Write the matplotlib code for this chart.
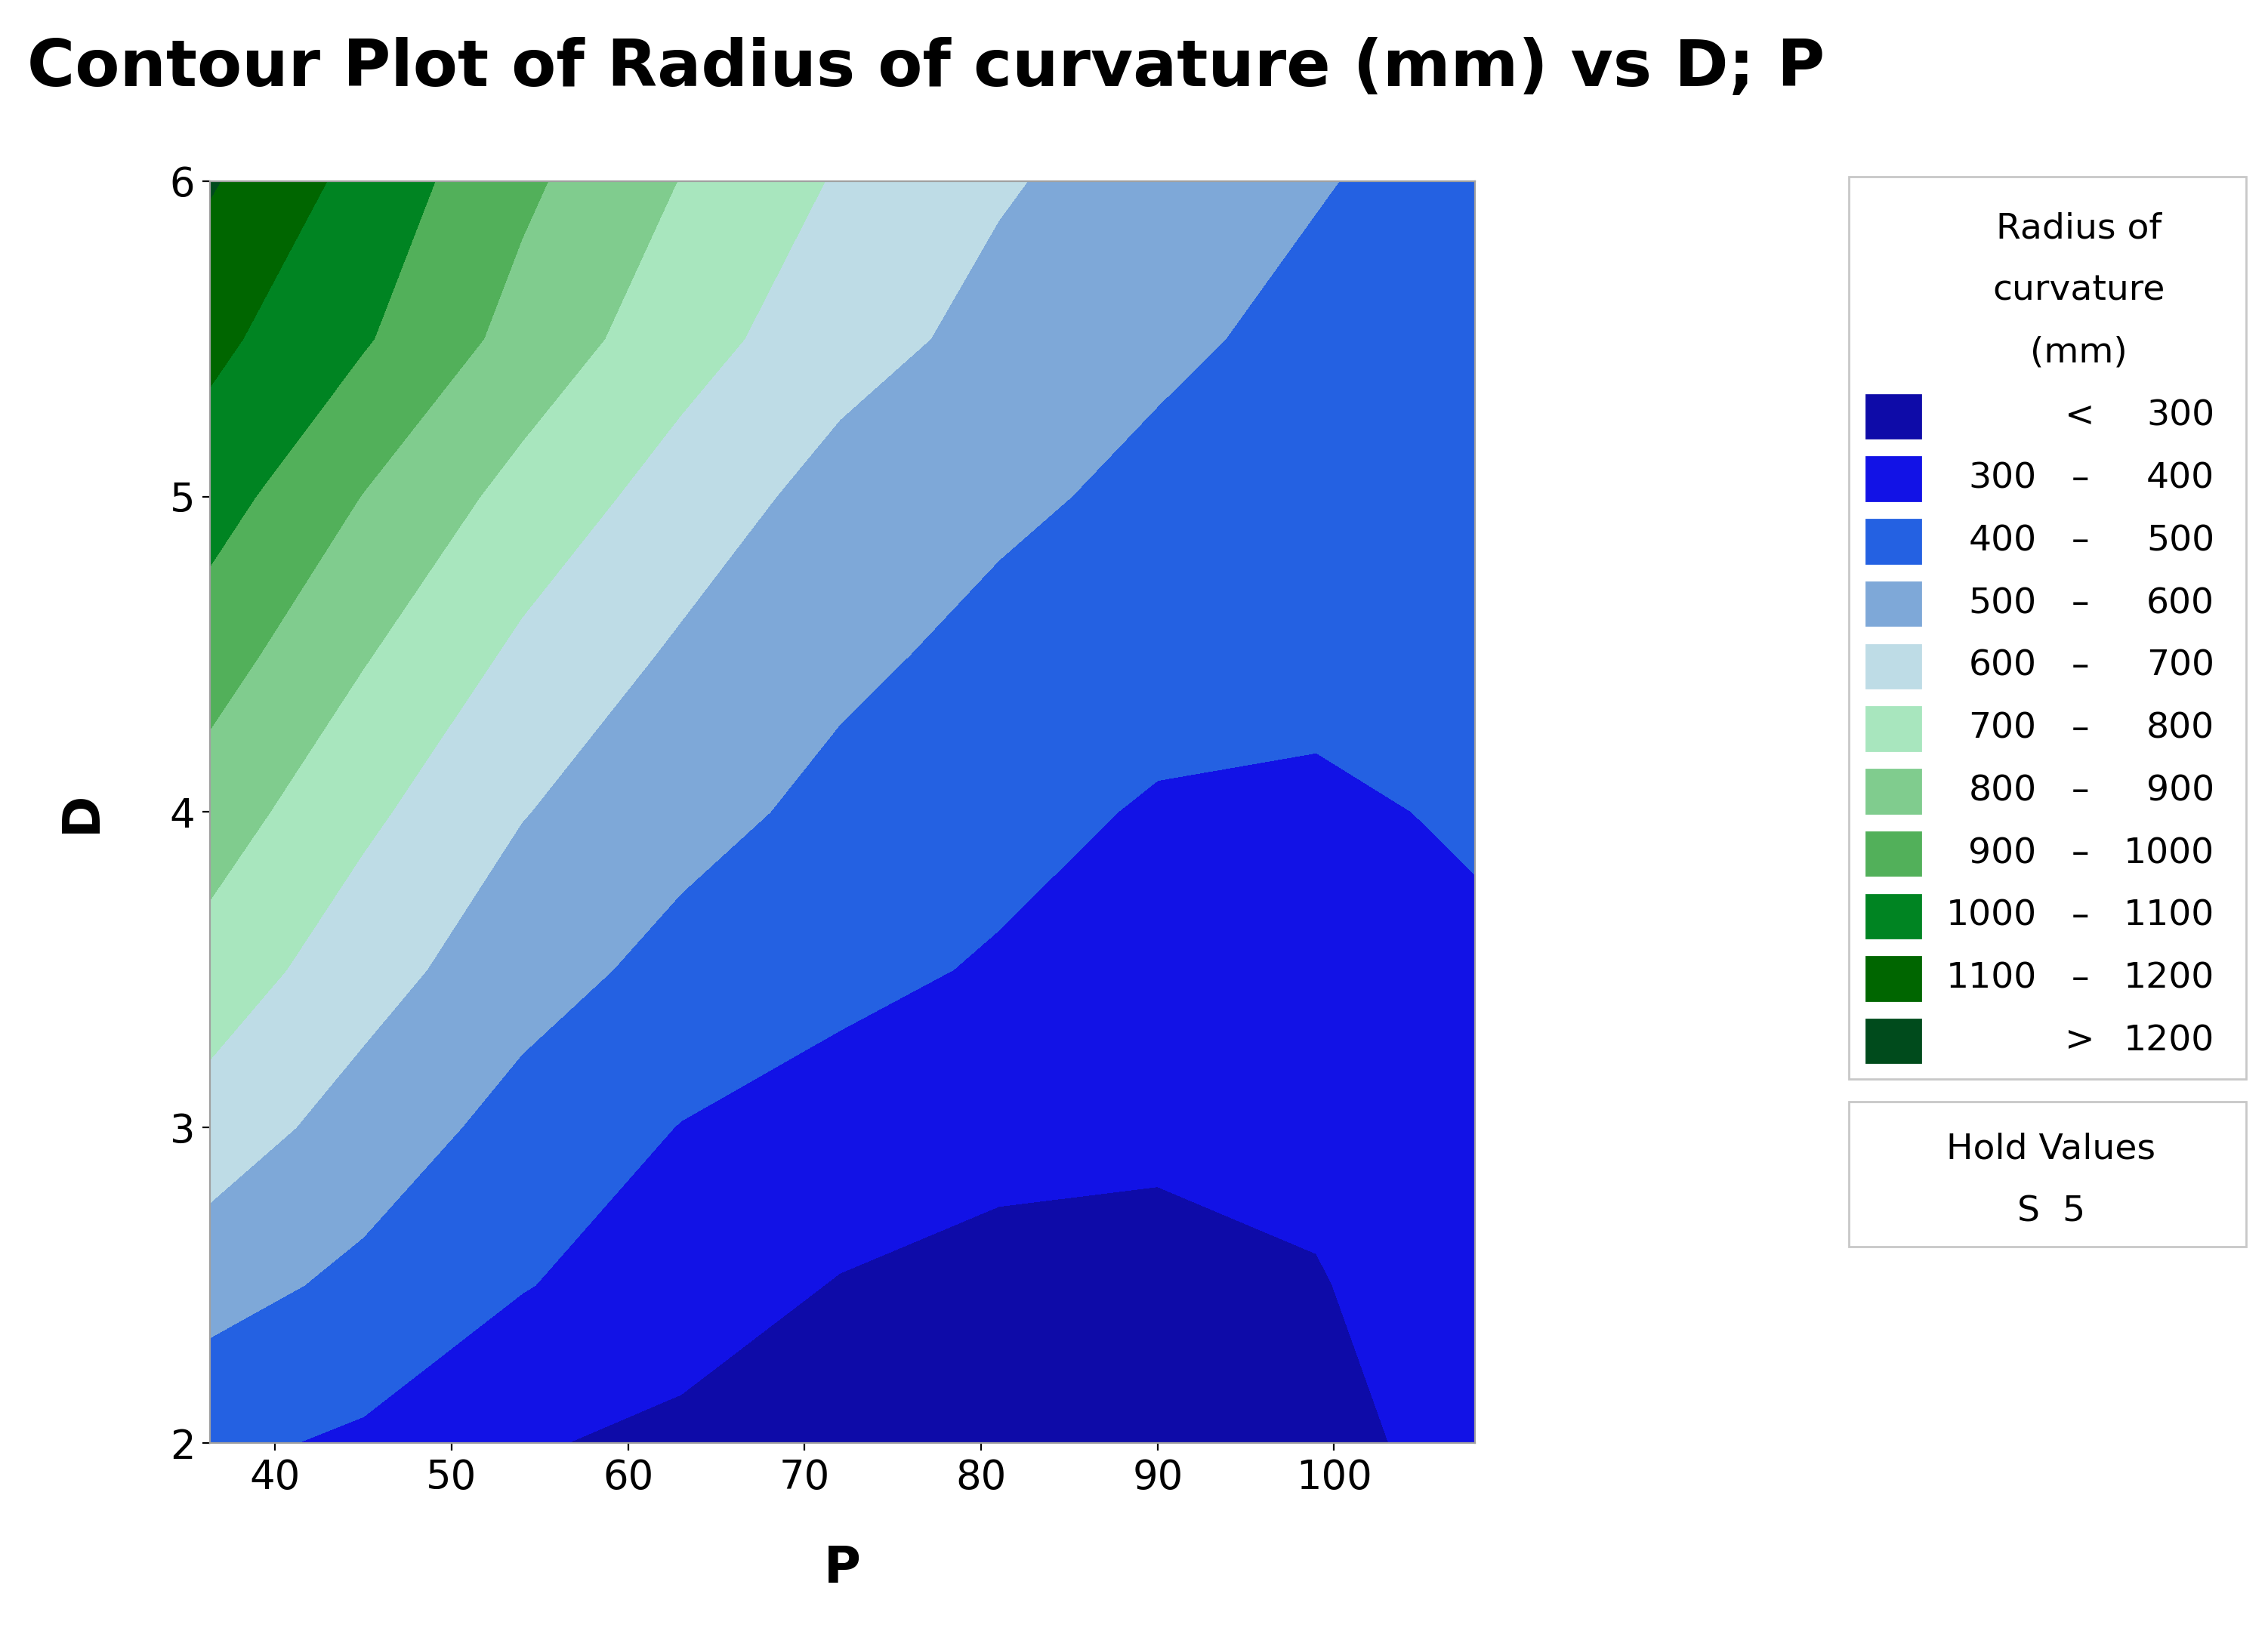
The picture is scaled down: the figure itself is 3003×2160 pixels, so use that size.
import numpy as np
import matplotlib.pyplot as plt
from matplotlib.patches import Rectangle

# values (Radius of curvature, mm)
p_vals = [36.3, 45, 54, 63, 72, 81, 90, 99, 108]
d_vals = [2, 2.5, 3, 3.5, 4, 4.5, 5, 5.5, 6]
radius = [
    [420, 385, 308, 280, 255, 240, 245, 275, 330],
    [540, 475, 405, 345, 295, 270, 275, 295, 345],
    [655, 557, 465, 397, 360, 330, 315, 320, 355],
    [760, 640, 540, 470, 425, 390, 365, 360, 385],
    [851, 721, 604, 532, 475, 430, 390, 385, 410],
    [945, 808, 680, 585, 520, 475, 440, 425, 430],
    [1044, 897, 765, 657, 562, 517, 480, 460, 450],
    [1125, 1010, 865, 740, 640, 570, 515, 480, 460],
    [1210, 1066, 920, 797, 690, 610, 555, 505, 470],
]
levels = [0, 300, 400, 500, 600, 700, 800, 900, 1000, 1100, 1200, 5000]
colors = ["#0E0BA8", "#1212E6", "#2461E2", "#7EA8D8", "#BEDCE6", "#A8E6BE",
          "#80CC8E", "#52B05A", "#008422", "#006600", "#004B1C"]
legend_labels = [("", "<", "300"), ("300", "–", "400"), ("400", "–", "500"),
                 ("500", "–", "600"), ("600", "–", "700"), ("700", "–", "800"),
                 ("800", "–", "900"), ("900", "–", "1000"), ("1000", "–", "1100"),
                 ("1100", "–", "1200"), ("", ">", "1200")]

fig = plt.figure(figsize=(15.015, 10.8), dpi=200)
ax = fig.add_axes([0.0925, 0.1152, 0.558, 0.7738])
P, D = np.meshgrid(p_vals, d_vals)
ax.contourf(P, D, np.array(radius), levels=levels, colors=colors)
ax.set_xlim(36.3, 108)
ax.set_ylim(2, 6)
ax.set_xticks([40, 50, 60, 70, 80, 90, 100])
ax.set_yticks([2, 3, 4, 5, 6])
ax.tick_params(labelsize=19, colors="black")
for s in ax.spines.values():
    s.set_color("#A0A0A0")
ax.set_xlabel("P", fontsize=24, fontweight="bold", labelpad=22)
ax.set_ylabel("D", fontsize=24, fontweight="bold", labelpad=30)
fig.text(0.012, 0.958, "Contour Plot of Radius of curvature (mm) vs D; P",
         fontsize=31, fontweight="bold", va="center")

W, H = 1568, 1128
def fx(x): return x / W
def fy(y): return 1 - y / H

fig.patches.append(Rectangle((fx(1278), fy(746)), fx(275), (746 - 122) / H,
                             transform=fig.transFigure, fill=False, ec="#C8C8C8", lw=1))
fig.patches.append(Rectangle((fx(1278), fy(862)), fx(275), (862 - 762) / H,
                             transform=fig.transFigure, fill=False, ec="#C8C8C8", lw=1))
for i, t in enumerate(["Radius of", "curvature", "(mm)"]):
    fig.text(fx(1437), fy(158 + i * 43), t, fontsize=17, ha="center", va="center")
for i, (a, s, b) in enumerate(legend_labels):
    yc = 288 + i * 43.2
    fig.patches.append(Rectangle((fx(1290), fy(yc + 15)), fx(38), 30 / H,
                                 transform=fig.transFigure, color=colors[i]))
    fig.text(fx(1408), fy(yc), a, fontsize=17, ha="right", va="center")
    fig.text(fx(1438), fy(yc), s, fontsize=17, ha="center", va="center")
    fig.text(fx(1531), fy(yc), b, fontsize=17, ha="right", va="center")
fig.text(fx(1418), fy(795), "Hold Values", fontsize=17, ha="center", va="center")
fig.text(fx(1418), fy(838), "S  5", fontsize=17, ha="center", va="center")

fig.savefig("out.png")
